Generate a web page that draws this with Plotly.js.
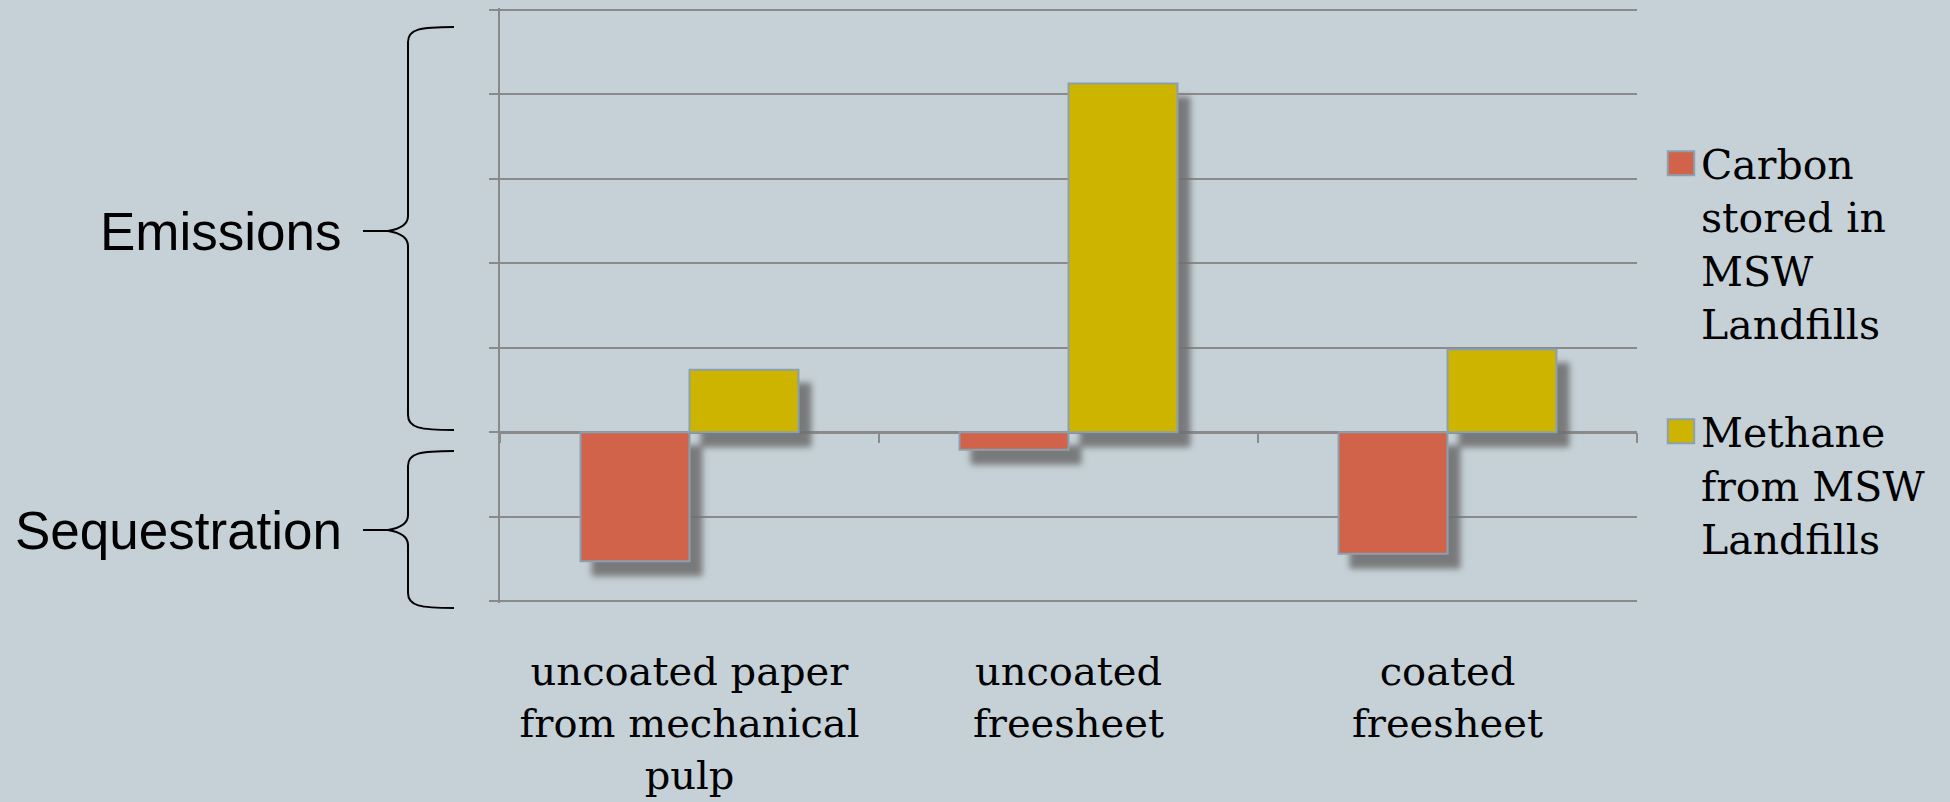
<!DOCTYPE html>
<html>
<head>
<meta charset="utf-8">
<script src="https://cdn.plot.ly/plotly-3.0.1.min.js"></script>
<style>
  html, body { margin: 0; padding: 0; background: #c5d1d7; }
  #chart { width: 1950px; height: 802px; }
</style>
</head>
<body>
<div id="chart"></div>
<script>
// ---- data ----
const categories = [
  "uncoated paper<br>from mechanical<br>pulp",
  "uncoated<br>freesheet",
  "coated<br>freesheet"
];
const seriesNames = [
  "Carbon<br>stored in<br>MSW<br>Landfills",
  "Methane<br>from MSW<br>Landfills"
];
const carbonStored = [-1.53, -0.21, -1.44];
const methane = [0.74, 4.13, 0.98];
const sideLabels = ["Emissions", "Sequestration"];
const yRange = [-2, 5];

// ---- layout geometry ----
const W = 1950, H = 802;
const M = { l: 500, r: 313, t: 8, b: 199 };
const PW = W - M.l - M.r, PH = H - M.t - M.b;
const pad = 2 / ((H - 10 - 201) / (yRange[1] - yRange[0]));   // 2px of headroom so edge gridlines show
const yLo = yRange[0] - pad, yHi = yRange[1] + pad;
const px = x => (x - M.l) / PW;
const py = y => (H - M.b - y) / PH;
const P = (x, y) => px(x).toFixed(5) + ',' + py(y).toFixed(5);

function brace(top, bot, tip) {
  const xl = 408, xe = 454, xt = 363, xm = 388;
  return 'M' + P(xe, top) + ' C' + P(420, top) + ' ' + P(xl, top + 2) + ' ' + P(xl, top + 15) +
    ' L' + P(xl, tip - 15) + ' C' + P(xl, tip - 6) + ' ' + P(400, tip - 2) + ' ' + P(xm, tip) +
    ' L' + P(xt, tip) +
    ' M' + P(xm, tip) + ' C' + P(400, tip + 2) + ' ' + P(xl, tip + 6) + ' ' + P(xl, tip + 15) +
    ' L' + P(xl, bot - 15) + ' C' + P(xl, bot - 2) + ' ' + P(420, bot) + ' ' + P(xe, bot);
}

const gridCol = '#8a8a8a';
const barLine = { color: '#8aa0ae', width: 2 };

const traces = [
  {
    type: 'bar', name: seriesNames[0], x: categories, y: carbonStored,
    marker: { color: '#d1634b', line: barLine }, legendgroup: 'a',
    hoverinfo: 'x+y'
  },
  {
    type: 'bar', name: seriesNames[1], x: categories, y: methane,
    marker: { color: '#ccb400', line: barLine }, legendgroup: 'b',
    hoverinfo: 'x+y'
  }
];

const layout = {
  width: W, height: H,
  margin: M,
  paper_bgcolor: '#c5d1d7',
  plot_bgcolor: '#c5d1d7',
  barmode: 'group',
  bargap: 0.425,
  bargroupgap: 0,
  showlegend: true,
  legend: {
    x: px(1661), xanchor: 'left',
    y: py(130), yanchor: 'top',
    valign: 'top',
    bgcolor: 'rgba(0,0,0,0)',
    borderwidth: 0,
    tracegroupgap: 52,
    font: { family: 'DejaVu Serif, serif', size: 41, color: '#000' }
  },
  xaxis: {
    type: 'category',
    range: [-0.5, 2.5],
    anchor: 'free',
    position: (0 - yLo) / (yHi - yLo),
    showgrid: false, zeroline: false, showline: false,
    ticks: 'outside', tickson: 'boundaries', ticklen: 10, tickwidth: 2, tickcolor: gridCol,
    ticklabelstandoff: 212,
    tickfont: { family: 'DejaVu Serif, serif', size: 40, color: '#000' }
  },
  yaxis: {
    range: [yLo, yHi], tick0: 0, dtick: 1,
    showticklabels: false,
    ticks: 'outside', ticklen: 9, tickwidth: 2, tickcolor: gridCol,
    showline: true, linecolor: gridCol, linewidth: 2,
    showgrid: true, gridcolor: gridCol, gridwidth: 2,
    zeroline: true, zerolinecolor: gridCol, zerolinewidth: 3
  },
  shapes: [
    { type: 'path', xref: 'paper', yref: 'paper', path: brace(27, 430, 231),
      line: { color: '#000', width: 2 } },
    { type: 'path', xref: 'paper', yref: 'paper', path: brace(451, 608, 530),
      line: { color: '#000', width: 2 } }
  ],
  annotations: [
    { xref: 'paper', yref: 'paper', x: px(344), y: py(231), xanchor: 'right', yanchor: 'middle',
      text: sideLabels[0], showarrow: false,
      font: { family: 'Liberation Sans, Arial, sans-serif', size: 53, color: '#000' } },
    { xref: 'paper', yref: 'paper', x: px(344), y: py(530), xanchor: 'right', yanchor: 'middle',
      text: sideLabels[1], showarrow: false,
      font: { family: 'Liberation Sans, Arial, sans-serif', size: 53, color: '#000' } }
  ]
};

Plotly.newPlot('chart', traces, layout, { displayModeBar: false, staticPlot: true }).then(gd => {
  // soft drop shadow under the bars
  const svg = gd.querySelector('svg.main-svg');
  let defs = svg.querySelector('defs');
  if (!defs) { defs = document.createElementNS('http://www.w3.org/2000/svg', 'defs'); svg.insertBefore(defs, svg.firstChild); }
  defs.insertAdjacentHTML('beforeend',
    '<filter id="barShadow" x="-30%" y="-30%" width="160%" height="160%">' +
    '<feGaussianBlur in="SourceAlpha" stdDeviation="3"/>' +
    '<feOffset dx="12" dy="14" result="ob"/>' +
    '<feFlood flood-color="#707070" flood-opacity="0.9"/>' +
    '<feComposite in2="ob" operator="in"/>' +
    '<feMerge><feMergeNode/><feMergeNode in="SourceGraphic"/></feMerge>' +
    '</filter>');
  gd.querySelectorAll('.barlayer').forEach(g => g.setAttribute('filter', 'url(#barShadow)'));
  // larger legend swatches
  gd.querySelectorAll('.legendpoints path').forEach(p => {
    p.setAttribute('transform', (p.getAttribute('transform') || '') + ' scale(2.2,2.0)');
    p.style.vectorEffect = 'non-scaling-stroke';
  });
});
</script>
</body>
</html>
